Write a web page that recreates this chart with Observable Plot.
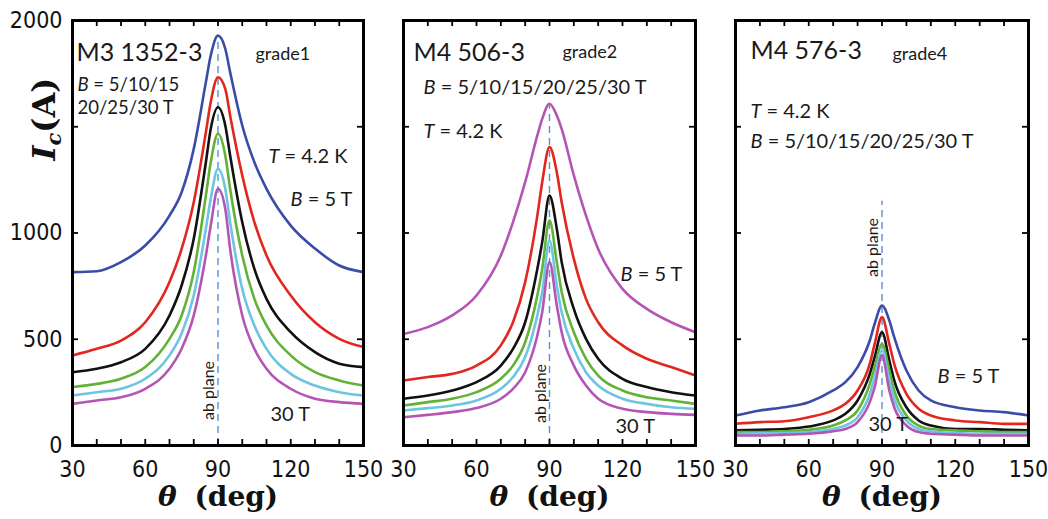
<!DOCTYPE html>
<html><head><meta charset="utf-8">
<script src="https://cdn.jsdelivr.net/npm/d3@7"></script>
<script src="https://cdn.jsdelivr.net/npm/@observablehq/plot@0.6"></script>
<style>
body{margin:0;background:#fff;}
#chart{position:relative;width:1048px;height:519px;overflow:hidden;background:#fff;}
</style></head><body><div id="chart"></div>
<script>
// ---- data ----
const theta = [30,40,50,60,70,75,80,85,87,90,93,95,100,105,110,120,130,140,150];
const fieldLabels = ["5 T","10 T","15 T","20 T","25 T","30 T"];

const grade1_5T  = [816,820,863,941,1082,1192,1396,1710,1835,1929,1867,1757,1506,1333,1208,1035,927,847,816];
const grade1_10T = [424,455,494,580,769,925,1145,1474,1616,1733,1678,1553,1271,1051,894,706,580,502,463];
const grade1_15T = [345,361,392,455,612,753,973,1333,1490,1592,1506,1365,1051,831,690,533,439,385,369];
const grade1_20T = [275,290,314,369,502,612,816,1176,1333,1467,1365,1208,894,690,565,424,345,306,282];
const grade1_25T = [235,251,267,314,424,527,706,1020,1161,1302,1208,1051,737,565,455,337,282,251,235];
const grade1_30T = [196,212,227,267,361,455,612,894,1035,1208,1114,925,612,455,361,267,220,204,196];

const grade2_5T  = [525,557,612,706,894,1051,1239,1459,1537,1608,1553,1490,1271,1082,925,737,643,580,533];
const grade2_10T = [306,322,337,376,471,580,769,1082,1239,1404,1286,1145,878,690,580,471,408,369,329];
const grade2_15T = [220,235,259,298,376,455,580,831,957,1176,1020,863,643,502,408,314,275,251,235];
const grade2_20T = [188,204,220,251,314,376,486,706,831,1059,863,722,533,408,329,259,227,212,196];
const grade2_25T = [165,176,188,212,267,322,416,612,722,965,753,627,455,345,282,220,196,180,173];
const grade2_30T = [133,144,157,176,220,267,345,518,627,863,659,533,376,282,220,173,157,149,144];

const grade4_5T  = [141,165,180,204,259,298,369,494,573,659,588,510,353,259,212,180,165,157,141];
const grade4_10T = [102,110,114,133,165,196,259,384,478,604,478,384,243,173,141,118,110,102,102];
const grade4_15T = [71,74,78,89,118,149,212,337,416,533,400,306,180,118,94,78,78,74,71];
const grade4_20T = [63,63,67,74,94,118,165,290,369,478,353,259,141,94,78,71,67,63,63];
const grade4_25T = [55,57,59,63,78,94,133,243,322,447,306,220,118,78,67,59,55,55,55];
const grade4_30T = [47,47,51,55,67,78,110,204,275,424,259,180,94,63,55,51,47,47,47];

const xTickLabels = [30,60,90,120,150];
const xMinorTicks = [40,50,60,70,80,90,100,110,120,130,140];
const yTickLabels = [0,500,1000,2000];
const yInnerTicks = [500,1000,1500];
const abPlaneTheta = 90;
const abLineTop = [1930,1600,1150];
const sampleNames = ["M3 1352-3","M4 506-3","M4 576-3"];
const gradeNames = ["grade1","grade2","grade4"];

// ---- styles & layout ----
const SANS = 'Lato, "Open Sans", sans-serif';
const SERIF = '"DejaVu Serif", serif';
const NARROW = '"Liberation Sans Narrow", "DejaVu Sans Condensed", "Liberation Sans", sans-serif';
const baseColors = ["#3a4ca8","#e2271f","#111111","#62b236","#6cc6e2","#b455b6"];
const panelColors = [baseColors, ["#b455b6", ...baseColors.slice(1)], baseColors];
const H = 519, MT = 20, MB = 74;

const panels = [
  {series:[grade1_5T,grade1_10T,grade1_15T,grade1_20T,grade1_25T,grade1_30T], left:0, width:375, ml:72, mr:12, yAxis:true, abDy:370,
   notes:[
     {segs:[{text:sampleNames[0]}], size:25, x0:4, y0:40},
     {segs:[{text:gradeNames[0]}], size:18, x0:183, y0:39},
     {segs:[{text:"B",italic:true},{text:" = 5/10/15"}], size:18.5, x0:5, y0:70},
     {segs:[{text:"20/25/30 T"}], size:18.5, x0:5, y0:93},
     {segs:[{text:"T",italic:true},{text:" = 4.2 K"}], size:20, x0:196, y0:142},
     {segs:[{text:"B",italic:true},{text:" = 5 T"}], size:20, x0:218, y0:185},
     {segs:[{text:"30 T"}], size:20, x0:198, y0:400}
   ]},
  {series:[grade2_5T,grade2_10T,grade2_15T,grade2_20T,grade2_25T,grade2_30T], left:375, width:335, ml:28, mr:15, yAxis:false, abDy:373,
   notes:[
     {segs:[{text:sampleNames[1]}], size:25, x0:10, y0:40},
     {segs:[{text:gradeNames[1]}], size:18, x0:159, y0:37},
     {segs:[{text:"B",italic:true},{text:" = 5/10/15/20/25/30 T"}], size:20, x0:20, y0:73},
     {segs:[{text:"T",italic:true},{text:" = 4.2 K"}], size:20, x0:20, y0:117},
     {segs:[{text:"B",italic:true},{text:" = 5 T"}], size:20, x0:217, y0:260},
     {segs:[{text:"30 T"}], size:20, x0:212, y0:412}
   ]},
  {series:[grade4_5T,grade4_10T,grade4_15T,grade4_20T,grade4_25T,grade4_30T], left:707, width:341, ml:28, mr:20, yAxis:false, abDy:227,
   notes:[
     {segs:[{text:sampleNames[2]}], size:25, x0:15, y0:38},
     {segs:[{text:gradeNames[2]}], size:18, x0:157, y0:39},
     {segs:[{text:"T",italic:true},{text:" = 4.2 K"}], size:20, x0:15, y0:97},
     {segs:[{text:"B",italic:true},{text:" = 5/10/15/20/25/30 T"}], size:20, x0:15, y0:127},
     {segs:[{text:"B",italic:true},{text:" = 5 T"}], size:20, x0:202, y0:362},
     {segs:[{text:"30 T"}], size:20, x0:133, y0:410}
   ]}
];

const ctx = document.createElement("canvas").getContext("2d");
function fontStr(s, size, family){ return `${s.italic?"italic ":""}${s.bold?"bold ":""}${size}px ${family}`; }
function rich(segs, o){
  const family = o.family || SANS, rot = o.rotate || 0;
  const widths = segs.map(s => { ctx.font = fontStr(s, s.size||o.size, family); return (s.pre||0) + ctx.measureText(s.text).width; });
  let adv = o.center ? -d3.sum(widths)/2 : 0;
  const marks = [];
  segs.forEach((s,i) => {
    const fs = s.size || o.size;
    const a = adv + (s.pre||0);
    const dx = rot ? o.x0 + (s.shift||0) : o.x0 + a;
    const dy = rot ? o.y0 - a : o.y0 + (s.shift||0);
    marks.push(Plot.text([s.text], {text:d=>d, frameAnchor:"top-left", dx, dy, rotate:rot,
      textAnchor:"start", lineAnchor:"bottom", fontSize:fs, fontFamily:family,
      fontStyle:s.italic?"italic":"normal", fontWeight:s.bold?"bold":"normal", fill:o.fill||"#1a1a1a"}));
    adv += widths[i];
  });
  return marks;
}

const chart = document.getElementById("chart");
panels.forEach((p, pi) => {
  const fw = p.width - p.ml - p.mr, fh = H - MT - MB;
  const marks = [];
  marks.push(Plot.ruleX([abPlaneTheta], {x:d=>d, y1:()=>0, y2:()=>abLineTop[pi], stroke:"#5a8fd0", strokeWidth:1.4, strokeDasharray:"7,5"}));
  p.series.forEach((vals, si) => {
    const rows = theta.map((t,k) => ({theta:t, ic:vals[k], B:fieldLabels[si]}));
    marks.push(Plot.line(rows, {x:"theta", y:"ic", stroke:panelColors[pi][si], strokeWidth:2.6, curve:"monotone-x"}));
  });
  marks.push(Plot.text([abPlaneTheta], {x:d=>d, text:()=>"ab plane", frameAnchor:"top", dx:-9, dy:p.abDy, rotate:-90,
    textAnchor:"middle", lineAnchor:"middle", fontSize:16, fontFamily:SANS, fill:"#1a1a1a"}));
  p.notes.forEach(n => marks.push(...rich(n.segs, n)));
  // inward tick marks
  marks.push(Plot.tickX(xMinorTicks, {x:d=>d, insetTop:fh-6, stroke:"#000", strokeWidth:1.8}));
  marks.push(Plot.tickX(xMinorTicks, {x:d=>d, insetBottom:fh-6, stroke:"#000", strokeWidth:1.8}));
  marks.push(Plot.tickY(yInnerTicks, {y:d=>d, insetRight:fw-6, stroke:"#000", strokeWidth:1.8}));
  marks.push(Plot.tickY(yInnerTicks, {y:d=>d, insetLeft:fw-6, stroke:"#000", strokeWidth:1.8}));
  marks.push(Plot.frame({stroke:"#000", strokeWidth:3}));
  // axis titles
  marks.push(...rich([{text:"θ",italic:true,bold:true},{text:"(deg)",bold:true,pre:18}], {x0:fw/2, y0:485, size:28, family:SERIF, center:true, fill:"#111"}));
  if (p.yAxis) marks.push(...rich([{text:"I",italic:true,bold:true},{text:"c",italic:true,bold:true,size:21,shift:6},{text:"(A)",bold:true}], {x0:-18, y0:140, size:32, family:SERIF, rotate:-90, fill:"#111"}));

  const svg = Plot.plot({
    width:p.width, height:H, marginLeft:p.ml, marginRight:p.mr, marginTop:MT, marginBottom:MB,
    x:{domain:[30,150], ticks:xTickLabels, tickSize:0, tickPadding:15, label:null, tickFormat:d=>String(d)},
    y: p.yAxis ? {domain:[0,2000], ticks:yTickLabels, tickSize:0, tickPadding:10, label:null, tickFormat:d=>String(d)}
               : {domain:[0,2000], axis:null},
    style:{position:"absolute", left:p.left+"px", top:"0px", overflow:"visible", background:"transparent",
           fontFamily:NARROW, fontSize:"23px", color:"#111"},
    marks
  });
  chart.appendChild(svg);
});
</script></body></html>
